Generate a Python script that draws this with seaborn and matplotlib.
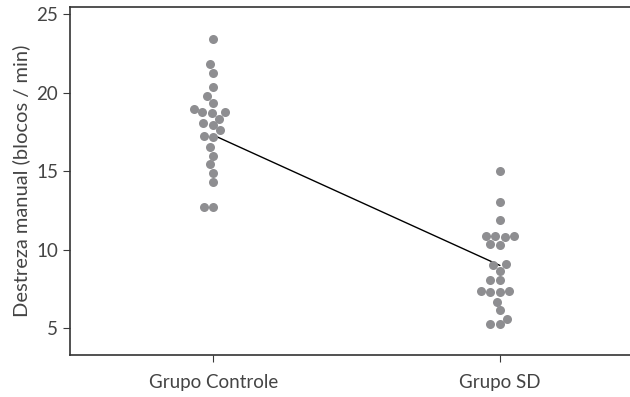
import matplotlib
matplotlib.use("Agg")
import matplotlib.pyplot as plt
import numpy as np
import pandas as pd
import seaborn as sns

# dados
grupos = ["Grupo Controle", "Grupo SD"]
controle = [23.4, 21.8, 21.25, 20.35, 19.8, 19.35, 18.95, 18.8, 18.7,
            18.75, 18.35, 18.1, 17.95, 17.6, 17.25, 17.2, 16.55, 16.0, 15.45,
            14.9, 14.3, 12.75, 12.75]
sd = [15.0, 13.05, 11.9, 10.9, 10.85, 10.85, 10.8, 10.35, 10.3, 9.1,
      9.05, 8.65, 8.1, 8.05, 7.4, 7.35, 7.3, 7.3, 6.7, 6.15,
      5.6, 5.25, 5.25]
medias = [17.3, 9.0]

df = pd.DataFrame({
    "grupo": [grupos[0]] * len(controle) + [grupos[1]] * len(sd),
    "valor": controle + sd,
})

sns.set_style("ticks")
plt.rcParams["font.family"] = ["Lato", "DejaVu Sans"]

fig = plt.figure(figsize=(6.3, 3.97), dpi=100)
ax = fig.add_axes([0.111, 0.106, 0.91, 0.876])

sns.pointplot(x=grupos, y=medias, color="black", markers="", linewidth=1,
              ax=ax, zorder=1)
sns.swarmplot(data=df, x="grupo", y="valor", color="#8e8e91", size=6.5,
              ax=ax, zorder=2)

ax.set_xlim(-0.5, 1.5)
ax.set_ylim(3.3, 25.45)
ax.set_yticks([5, 10, 15, 20, 25])
ax.set_xlabel("")
ax.set_ylabel("Destreza manual (blocos / min)", fontsize=14.5, color="#444444",
              labelpad=4)
ax.tick_params(labelsize=13.5, labelcolor="#444444", color="#3a3a3a", length=5)
ax.tick_params(axis="x", pad=9)
for s in ["left", "bottom", "top", "right"]:
    ax.spines[s].set_visible(True)
    ax.spines[s].set_color("#333333")
    ax.spines[s].set_linewidth(1.2)

fig.savefig("out.png", dpi=100)
